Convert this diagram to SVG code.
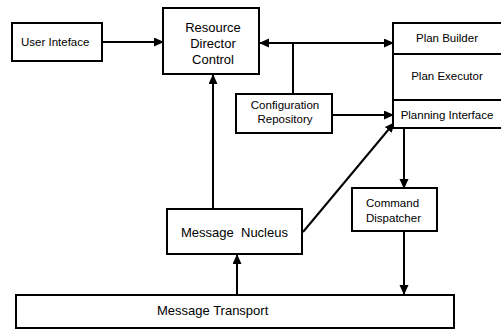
<svg xmlns="http://www.w3.org/2000/svg" width="501" height="329" viewBox="0 0 501 329">
<style>
.box{fill:#fff;stroke:#000;stroke-width:2}
.ln{fill:none;stroke:#000;stroke-width:2}
.arr{marker-end:url(#ah)}
text{font-family:"Liberation Sans",Arial,sans-serif;fill:#000}
.s{font-size:11.5px}
.m{font-size:13px}
.c{text-anchor:middle}
</style>
<defs>
<marker id="ah" markerUnits="userSpaceOnUse" markerWidth="10" markerHeight="10" refX="9" refY="4.5" orient="auto-start-reverse">
<path d="M0,0 L10,4.5 L0,9 z" fill="#000"/>
</marker>
</defs>
<g id="connectors">
<line class="ln arr" x1="102" y1="42" x2="163" y2="42"/>
<line class="ln arr" x1="213" y1="209" x2="213" y2="75"/>
<line class="ln" x1="260" y1="43" x2="393" y2="43" marker-start="url(#ah)" marker-end="url(#ah)"/>
<line class="ln" x1="293" y1="43" x2="293" y2="94"/>
<line class="ln arr" x1="332" y1="115" x2="393" y2="115"/>
<line class="ln arr" x1="303" y1="232" x2="394" y2="123"/>
<line class="ln arr" x1="404" y1="128" x2="404" y2="188"/>
<line class="ln arr" x1="404" y1="231" x2="404" y2="294"/>
<line class="ln arr" x1="237" y1="295" x2="237" y2="255"/>
</g>
<g id="user-interface">
<rect class="box" x="12" y="23" width="90" height="38"/>
<text class="s" x="21" y="46">User Inteface</text>
</g>
<g id="resource-director-control">
<rect class="box" x="163" y="8" width="96" height="66"/>
<text class="m c" x="213" y="31.5">Resource</text>
<text class="m c" x="213" y="47.5">Director</text>
<text class="m c" x="213" y="63.5">Control</text>
</g>
<g id="configuration-repository">
<rect class="box" x="236" y="94" width="96" height="39"/>
<text class="s c" x="285" y="109">Configuration</text>
<text class="s c" x="285" y="123">Repository</text>
</g>
<g id="plan-builder">
<rect class="box" x="393" y="23" width="112" height="31"/>
<text class="s c" x="447" y="42">Plan Builder</text>
</g>
<g id="plan-executor">
<rect class="box" x="393" y="54" width="112" height="46"/>
<text class="s c" x="447" y="80">Plan Executor</text>
</g>
<g id="planning-interface">
<rect class="box" x="393" y="100" width="112" height="28"/>
<text class="s c" x="447" y="119">Planning Interface</text>
</g>
<g id="command-dispatcher">
<rect class="box" x="352" y="188" width="85" height="43"/>
<text class="s" x="366" y="207">Command</text>
<text class="s" x="366" y="222">Dispatcher</text>
</g>
<g id="message-nucleus">
<rect class="box" x="167" y="209" width="135" height="45"/>
<text class="m c" x="234.5" y="237" xml:space="preserve">Message  Nucleus</text>
</g>
<g id="message-transport">
<rect class="box" x="16" y="295" width="438" height="33"/>
<text class="m" x="157" y="315">Message Transport</text>
</g>
</svg>
